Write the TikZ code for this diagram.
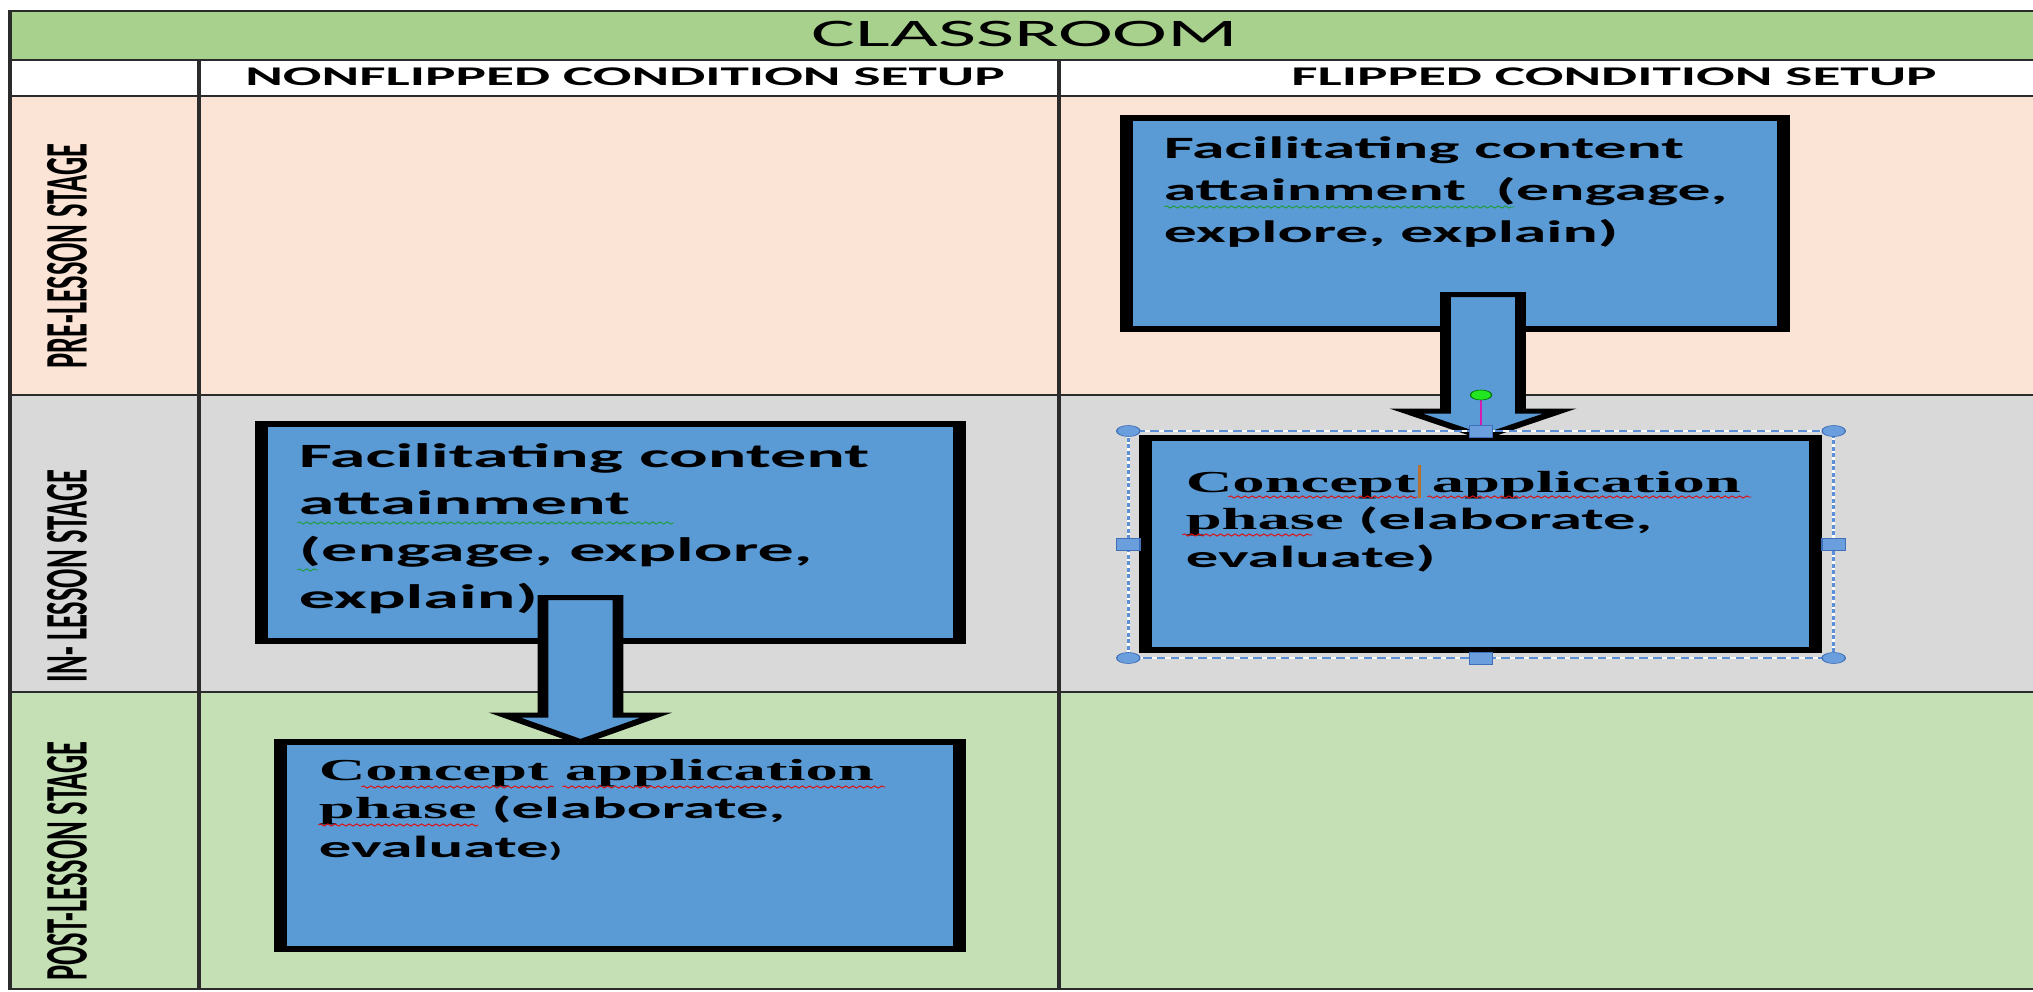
\documentclass[tikz,border=0pt]{standalone}
\usepackage{fontspec}
\setmainfont{Carlito}
\newfontfamily\serifface{Liberation Serif}
\usetikzlibrary{calc,decorations.pathmorphing}

\definecolor{bandgreen}{HTML}{A9D18E}
\definecolor{prerow}{HTML}{FBE3D6}
\definecolor{inrow}{HTML}{D9D9D9}
\definecolor{postrow}{HTML}{C5E0B4}
\definecolor{boxblue}{HTML}{5B9BD5}
\definecolor{gridline}{HTML}{2B2B2B}
\definecolor{selblue}{HTML}{5B8FD8}
\definecolor{handlefill}{HTML}{6A9EDC}
\definecolor{handleedge}{HTML}{3F6FB8}
\definecolor{rotgreen}{HTML}{22E622}
\definecolor{rotpink}{HTML}{D81BB0}
\definecolor{caretbrown}{HTML}{B7702D}
\definecolor{spellred}{HTML}{E01010}
\definecolor{grammargreen}{HTML}{1E9E3C}

\tikzset{
  gridrule/.style={draw=gridline, line width=1.6pt},
  stagebox/.style={draw=black, fill=boxblue, line width=6pt, inner sep=0pt, outer sep=0pt},
  blockarrow/.style={draw=black, fill=boxblue, line width=5pt, line join=miter},
  boxtext/.style={inner sep=0pt, anchor=base west, text=black},
  stagelabel/.style={rotate=90, inner sep=0pt, font=\fontsize{28.5}{30}\selectfont\bfseries},
  headtext/.style={anchor=base, inner sep=0pt, font=\fontsize{27}{30}\selectfont\bfseries},
  squiggle/.style={decorate, decoration={snake, amplitude=1.1pt, segment length=3.4pt}, line width=0.7pt},
  handlesq/.style={draw=handleedge, fill=handlefill, line width=0.6pt, minimum width=11pt, minimum height=12pt, inner sep=0pt},
  handlecirc/.style={draw=handleedge, fill=handlefill, line width=0.6pt},
}

\begin{document}
\begin{tikzpicture}
\useasboundingbox (0pt,0pt) rectangle (2033pt,-992pt);
\begin{scope}[transform canvas={xscale=2.12}, x=0.4717pt, y=-1pt]
  % table background
  \fill[white] (0,0) rectangle (2040,992);
  \fill[bandgreen] (10,11) rectangle (2040,60);
  \fill[white] (10,60) rectangle (2040,96);
  \fill[prerow] (10,96) rectangle (2040,395);
  \fill[inrow] (10,395) rectangle (2040,692);
  \fill[postrow] (10,692) rectangle (2040,989);

  % table rules
  \draw[gridrule] (2040,11) -- (10,11) -- (10,989) -- (2040,989);
  \foreach \yy in {60,96,395,692} \draw[gridrule] (10,\yy) -- (2040,\yy);
  \draw[gridrule] (199,60) -- (199,989);
  \draw[gridrule] (1059,60) -- (1059,989);

  % headings
  \node[anchor=base, inner sep=0pt, font=\fontsize{39}{42}\selectfont] (title) at (1025,47) {CLASSROOM};
  \node[headtext] (hNon) at (625,86) {NONFLIPPED CONDITION SETUP};
  \node[headtext] (hFlip) at (1614,86) {FLIPPED CONDITION SETUP};

  % stage labels
  \node[stagelabel] (lPre) at (67,256) {PRE-LESSON STAGE};
  \node[stagelabel] (lIn) at (67,576) {IN- LESSON STAGE};
  \node[stagelabel] (lPost) at (67,861) {POST-LESSON STAGE};

  % upper boxes
  \node[stagebox, minimum width=310pt, minimum height=211pt] (fTop) at (1455,223.5) {};
  \node[boxtext] (fTopTxt) at ($(fTop.north west)+(37,41)$)
    {\fontsize{31}{42}\selectfont\bfseries\begin{tabular}[t]{@{}l@{}}Facilitating content\\attainment\ \ (engage,\\explore, explain)\end{tabular}};
  \draw[squiggle, grammargreen] ($(fTopTxt.base west)+(1,48)$) -- ++(350,0);

  \node[stagebox, minimum width=329.4pt, minimum height=217pt] (nTop) at (610.5,532.5) {};
  \node[boxtext] (nTopTxt) at ($(nTop.north west)+(37,43)$)
    {\fontsize{34}{47}\selectfont\bfseries\begin{tabular}[t]{@{}l@{}}Facilitating content\\attainment\\(engage, explore,\\explain)\end{tabular}};
  \draw[squiggle, grammargreen] ($(nTopTxt.base west)+(-1,56)$) -- ++(376,0);
  \draw[squiggle, grammargreen] ($(nTopTxt.base west)+(-1,103)$) -- ++(21,0);

  % centres and top edges of the lower boxes, used by the arrows
  \path (1480.5,544) coordinate (fBotC) (620,845.5) coordinate (nBotC);
  \path ($(fBotC)+(0,-106)$) coordinate (fBotN) ($(nBotC)+(0,-103.5)$) coordinate (nBotN);

  % arrows between the stages
  \coordinate (fTail) at ($(fTop.south)+(28,-34.5)$);
  \coordinate (fTip) at ($(fBotN)+(2.5,-1)$);
  \draw[blockarrow] ($(fTail)+(-37.5,0)$) -- ($(fTail)+(37.5,0)$) -- ($(fTip)+(37.5,-26)$)
    -- ($(fTip)+(77,-26)$) -- (fTip) -- ($(fTip)+(-77,-26)$) -- ($(fTip)+(-37.5,-26)$) -- cycle;

  \coordinate (nTail) at ($(nTop.south)+(-30,-43.5)$);
  \coordinate (nTip) at ($(nBotN)+(-39.5,0)$);
  \draw[blockarrow] ($(nTail)+(-37.5,0)$) -- ($(nTail)+(37.5,0)$) -- ($(nTip)+(37.5,-27)$)
    -- ($(nTip)+(76,-27)$) -- (nTip) -- ($(nTip)+(-76,-27)$) -- ($(nTip)+(-37.5,-27)$) -- cycle;

  % lower boxes
  \node[stagebox, minimum width=316.2pt, minimum height=212pt] (fBot) at (fBotC) {};
  \node[boxtext] (fBotTxt) at ($(fBot.north west)+(40,54)$)
    {\fontsize{30.5}{37.5}\selectfont\bfseries\begin{tabular}[t]{@{}l@{}}{\serifface Concept application}\\{\serifface phase} (elaborate,\\evaluate)\end{tabular}};
  \draw[squiggle, spellred] ($(fBotTxt.base west)+(43,5)$) -- ++(189,0);
  \draw[squiggle, spellred] ($(fBotTxt.base west)+(242,5)$) -- ++(324,0);
  \draw[squiggle, spellred] ($(fBotTxt.base west)+(-3,43)$) -- ++(130,0);

  \node[stagebox, minimum width=320.4pt, minimum height=207pt] (nBot) at (nBotC) {};
  \node[boxtext] (nBotTxt) at ($(nBot.north west)+(38,38)$)
    {\fontsize{30.5}{38.5}\selectfont\bfseries\begin{tabular}[t]{@{}l@{}}{\serifface Concept application}\\{\serifface phase} (elaborate,\\evaluate{\fontsize{21}{21}\selectfont)}\end{tabular}};
  \draw[squiggle, spellred] ($(nBotTxt.base west)+(43,7)$) -- ++(192,0);
  \draw[squiggle, spellred] ($(nBotTxt.base west)+(244,7)$) -- ++(323,0);
  \draw[squiggle, spellred] ($(nBotTxt.base west)+(0,45)$) -- ++(160,0);

  % text caret in the selected box
  \draw[caretbrown, line width=1.4pt] ($(fBotTxt.base west)+(234,-27)$) -- ++(0,33);

  % selection frame with its handles
  \coordinate (sNW) at ($(fBot.north west)+(-17,-7)$);
  \coordinate (sSE) at ($(fBot.south east)+(18,8)$);
  \coordinate (sNE) at (sSE |- sNW);
  \coordinate (sSW) at (sNW |- sSE);
  \coordinate (sN) at ($(sNW)!0.5!(sNE)$);
  \coordinate (sS) at ($(sSW)!0.5!(sSE)$);
  \coordinate (sW) at ($(sNW)!0.5!(sSW)$);
  \coordinate (sE) at ($(sNE)!0.5!(sSE)$);
  \draw[white, line width=1.4pt] (sNW) rectangle (sSE);
  \draw[selblue, line width=1.4pt, dash pattern=on 4pt off 2.5pt] (sNW) rectangle (sSE);
  \foreach \c in {sNW,sNE,sSW,sSE} \draw[handlecirc] (\c) circle (5.5pt);
  \coordinate (rotC) at ($(sN)+(0,-36)$);
  \draw[rotpink, line width=1.3pt] (rotC) -- (sN);
  \node[handlesq] (hN) at (sN) {};
  \node[handlesq] (hS) at (sS) {};
  \node[handlesq] (hW) at (sW) {};
  \node[handlesq] (hE) at (sE) {};
  \node[circle, draw=green!45!black, fill=rotgreen, line width=0.6pt, minimum size=10pt, inner sep=0pt] (rot) at (rotC) {};
\end{scope}
\end{tikzpicture}
\end{document}
